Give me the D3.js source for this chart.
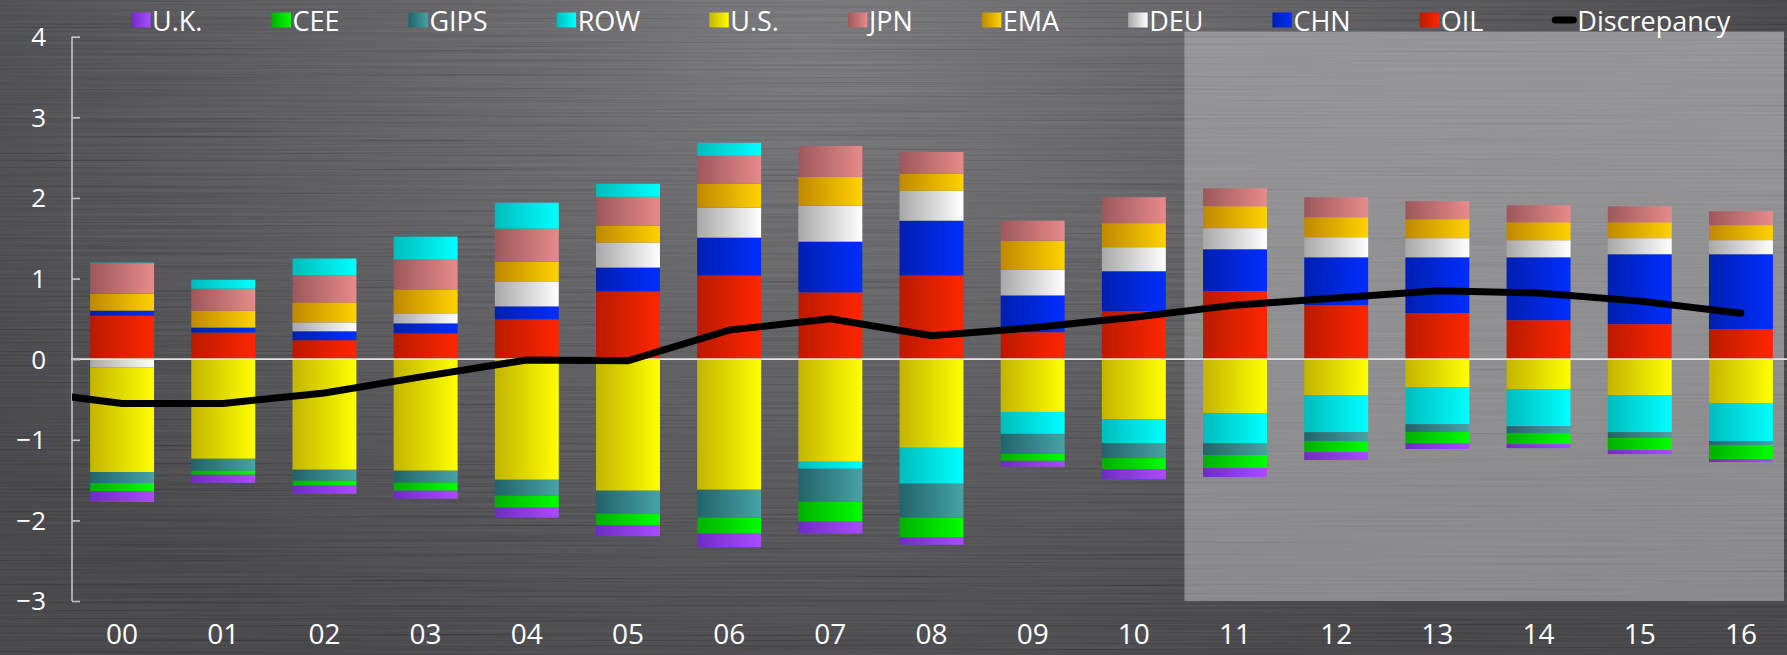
<!DOCTYPE html>
<html>
<head>
<meta charset="utf-8">
<script src="https://cdn.jsdelivr.net/npm/d3@7/dist/d3.min.js"></script>
<style>
  html, body { margin: 0; padding: 0; background: #47474c; }
  svg { display: block; }
  text { font-family: "Open Sans", "Noto Sans", sans-serif; fill: #ffffff; }
</style>
</head>
<body>
<svg id="chart" width="1787" height="655"></svg>
<script>
// ---- data -------------------------------------------------------------
const years = ["00","01","02","03","04","05","06","07","08","09","10","11","12","13","14","15","16"];

const oil  = [0.54, 0.33, 0.235, 0.32, 0.494, 0.84, 1.038, 0.828, 1.038, 0.334, 0.595, 0.843, 0.669, 0.57, 0.483, 0.434, 0.372];
const chn  = [0.062, 0.062, 0.111, 0.124, 0.161, 0.297, 0.47, 0.63, 0.68, 0.457, 0.496, 0.521, 0.595, 0.694, 0.781, 0.868, 0.93];
const deu  = [-0.1, 0, 0.111, 0.124, 0.309, 0.309, 0.371, 0.445, 0.371, 0.321, 0.298, 0.26, 0.248, 0.236, 0.211, 0.198, 0.174];
const ema  = [0.21, 0.21, 0.247, 0.297, 0.247, 0.21, 0.297, 0.358, 0.21, 0.358, 0.298, 0.273, 0.248, 0.236, 0.223, 0.198, 0.186];
const jpn  = [0.375, 0.272, 0.338, 0.371, 0.408, 0.358, 0.346, 0.383, 0.272, 0.247, 0.322, 0.223, 0.248, 0.223, 0.211, 0.198, 0.174];
const us   = [-1.30, -1.236, -1.372, -1.384, -1.496, -1.632, -1.62, -1.273, -1.10, -0.655, -0.744, -0.669, -0.446, -0.347, -0.372, -0.446, -0.545];
const row  = [0.01, 0.111, 0.206, 0.284, 0.321, 0.161, 0.161, -0.087, -0.445, -0.272, -0.298, -0.372, -0.459, -0.459, -0.459, -0.459, -0.471];
const gips = [-0.136, -0.148, -0.136, -0.148, -0.198, -0.284, -0.346, -0.408, -0.42, -0.247, -0.186, -0.149, -0.112, -0.099, -0.087, -0.074, -0.05];
const cee  = [-0.1, -0.05, -0.062, -0.1, -0.148, -0.148, -0.198, -0.247, -0.247, -0.087, -0.136, -0.161, -0.136, -0.136, -0.136, -0.149, -0.174];
const uk   = [-0.136, -0.1, -0.1, -0.1, -0.124, -0.132, -0.167, -0.148, -0.09, -0.074, -0.124, -0.112, -0.099, -0.074, -0.05, -0.05, -0.037];

// discrepancy runs from the end of 1999 through 2016
const discrepancyYears = ["99", ...years];
const discrepancy = [-0.39, -0.55, -0.55, -0.42, -0.21, -0.01, -0.02, 0.36, 0.50, 0.29, 0.39, 0.52, 0.67, 0.76, 0.85, 0.82, 0.72, 0.57];

const yTicks = [-3, -2, -1, 0, 1, 2, 3, 4];

// legend order (left to right); stacking order is the reverse
const legendNames = ["U.K.", "CEE", "GIPS", "ROW", "U.S.", "JPN", "EMA", "DEU", "CHN", "OIL"];
const seriesValues = { "U.K.": uk, "CEE": cee, "GIPS": gips, "ROW": row, "U.S.": us,
                       "JPN": jpn, "EMA": ema, "DEU": deu, "CHN": chn, "OIL": oil };
// [dark left edge, bright right edge]
const seriesColors = {
  "U.K.": ["#6e2cc2", "#aa4cff"],
  "CEE":  ["#00b000", "#00ff00"],
  "GIPS": ["#22636a", "#46a3a6"],
  "ROW":  ["#00bcbc", "#00ffff"],
  "U.S.": ["#c2b400", "#ffff00"],
  "JPN":  ["#9c585c", "#e88a8a"],
  "EMA":  ["#bf8800", "#ffd200"],
  "DEU":  ["#a8a8a8", "#ffffff"],
  "CHN":  ["#001fb0", "#002eff"],
  "OIL":  ["#ba1a00", "#ff2600"]
};

// ---- layout -----------------------------------------------------------
const W = 1787, H = 655;
const svg = d3.select("#chart");
const defs = svg.append("defs");

const x = d3.scaleBand().domain(years).range([71.5, 1791.5]).paddingInner(0.368).paddingOuter(0.184);
const y = d3.scaleLinear().domain([-3, 4]).range([601, 36.7]);
const bw = x.bandwidth();
const cx = d => x(d) + bw / 2;

// ---- background: brushed metal ----------------------------------------
const bgGrad = defs.append("radialGradient").attr("id", "bgGlow")
  .attr("gradientUnits", "userSpaceOnUse").attr("cx", 820).attr("cy", 40).attr("r", 1000)
  .attr("gradientTransform", "translate(820 40) scale(1 0.7) translate(-820 -40)");
bgGrad.append("stop").attr("offset", 0).attr("stop-color", "#747479");
bgGrad.append("stop").attr("offset", 0.5).attr("stop-color", "#58585d");
bgGrad.append("stop").attr("offset", 1).attr("stop-color", "#3e3e43");

const brush = defs.append("filter").attr("id", "brush")
  .attr("x", 0).attr("y", 0).attr("width", 1).attr("height", 1)
  .attr("filterUnits", "objectBoundingBox");
brush.append("feTurbulence").attr("type", "fractalNoise")
  .attr("baseFrequency", "0.003 0.55").attr("numOctaves", 2).attr("seed", 7).attr("result", "n");
brush.append("feColorMatrix").attr("type", "matrix")
  .attr("values", "1.6 0 0 0 -0.3  1.6 0 0 0 -0.3  1.6 0 0 0 -0.3  0 0 0 0 0.09");

svg.append("rect").attr("width", W).attr("height", H).attr("fill", "url(#bgGlow)");
svg.append("rect").attr("width", W).attr("height", H).attr("fill", "#000").attr("filter", "url(#brush)");

// projection period panel (2011 onwards)
const panelGrad = defs.append("linearGradient").attr("id", "panelGrad")
  .attr("x1", 0).attr("y1", 0).attr("x2", 0).attr("y2", 1);
panelGrad.append("stop").attr("offset", 0).attr("stop-color", "#939396");
panelGrad.append("stop").attr("offset", 1).attr("stop-color", "#88888b");

const panelX0 = (cx("10") + cx("11")) / 2;
const panelX1 = W - 3;
const panelY0 = y(4) - 5, panelY1 = y(-3);
svg.append("rect").attr("x", panelX0).attr("y", panelY0)
  .attr("width", panelX1 - panelX0).attr("height", panelY1 - panelY0)
  .attr("fill", "url(#panelGrad)");
svg.append("rect").attr("x", panelX0).attr("y", panelY0)
  .attr("width", panelX1 - panelX0).attr("height", panelY1 - panelY0)
  .attr("fill", "#000").attr("filter", "url(#brush)").attr("opacity", 0.6);

// ---- bar gradients ----------------------------------------------------
const gradId = name => "g" + name.replace(/\W/g, "");
legendNames.forEach(name => {
  const g = defs.append("linearGradient").attr("id", gradId(name))
    .attr("x1", 0).attr("y1", 0).attr("x2", 1).attr("y2", 0);
  g.append("stop").attr("offset", 0).attr("stop-color", seriesColors[name][0]);
  g.append("stop").attr("offset", 1).attr("stop-color", seriesColors[name][1]);
});

// ---- stacked bars (diverging) ----------------------------------------
const stackKeys = legendNames.slice().reverse();
const table = years.map((yr, i) => {
  const r = { year: yr };
  stackKeys.forEach(k => { r[k] = seriesValues[k][i]; });
  return r;
});
const stacked = d3.stack().keys(stackKeys).offset(d3.stackOffsetDiverging)(table);

svg.append("g").selectAll("g").data(stacked).join("g")
  .attr("fill", s => `url(#${gradId(s.key)})`)
  .selectAll("rect").data(s => s).join("rect")
    .attr("x", d => x(d.data.year))
    .attr("width", bw)
    .attr("y", d => y(Math.max(d[0], d[1])))
    .attr("height", d => Math.abs(y(d[0]) - y(d[1])));

// ---- zero line ---------------------------------------------------------
svg.append("line").attr("x1", 71).attr("x2", W).attr("y1", y(0)).attr("y2", y(0))
  .attr("stroke", "#e6e6e6").attr("stroke-width", 1.6);

// ---- y axis -------------------------------------------------------------
const yAxis = svg.append("g").attr("transform", "translate(72,0)")
  .call(d3.axisRight(y).tickValues(yTicks).tickSize(8).tickFormat(""));
yAxis.select(".domain").attr("stroke", "#c4c4c4").attr("stroke-width", 1.6)
  .attr("d", `M0,${y(4)}V${y(-3)}`);
yAxis.selectAll(".tick line").attr("stroke", "#c4c4c4").attr("stroke-width", 1.6);

svg.append("g").selectAll("text").data(yTicks).join("text")
  .attr("x", 46).attr("y", d => y(d)).attr("dy", "0.36em")
  .attr("text-anchor", "end").attr("font-size", 26)
  .text(d => d3.format("")(d).replace("-", "\u2212"));

// ---- x labels ------------------------------------------------------------
svg.append("g").selectAll("text").data(years).join("text")
  .attr("x", d => cx(d)).attr("y", 644)
  .attr("text-anchor", "middle").attr("font-size", 28)
  .text(d => d);

// ---- discrepancy line ------------------------------------------------------
defs.append("clipPath").attr("id", "plotClip")
  .append("rect").attr("x", 72).attr("y", 0).attr("width", W - 72).attr("height", H);

const step = x.step();
const lineX = i => cx(years[0]) + (i - 1) * step;
svg.append("path")
  .datum(discrepancy)
  .attr("clip-path", "url(#plotClip)")
  .attr("fill", "none").attr("stroke", "#000").attr("stroke-width", 7)
  .attr("stroke-linecap", "round").attr("stroke-linejoin", "miter")
  .attr("d", d3.line().x((d, i) => lineX(i)).y(d => y(d)));

// ---- legend -----------------------------------------------------------------
const legend = svg.append("g");
let lx = 131;
legendNames.forEach(name => {
  legend.append("rect").attr("x", lx).attr("y", 12.5).attr("width", 19.5).attr("height", 15)
    .attr("fill", `url(#${gradId(name)})`);
  const t = legend.append("text").attr("x", lx + 21).attr("y", 30.5)
    .attr("font-size", 27).text(name);
  lx += 21 + t.node().getComputedTextLength() + 69;
});
legend.append("line").attr("x1", lx + 3).attr("x2", lx + 21).attr("y1", 20).attr("y2", 20)
  .attr("stroke", "#000").attr("stroke-width", 7).attr("stroke-linecap", "round");
legend.append("text").attr("x", lx + 25).attr("y", 30.5).attr("font-size", 27).text("Discrepancy");
</script>
</body>
</html>
